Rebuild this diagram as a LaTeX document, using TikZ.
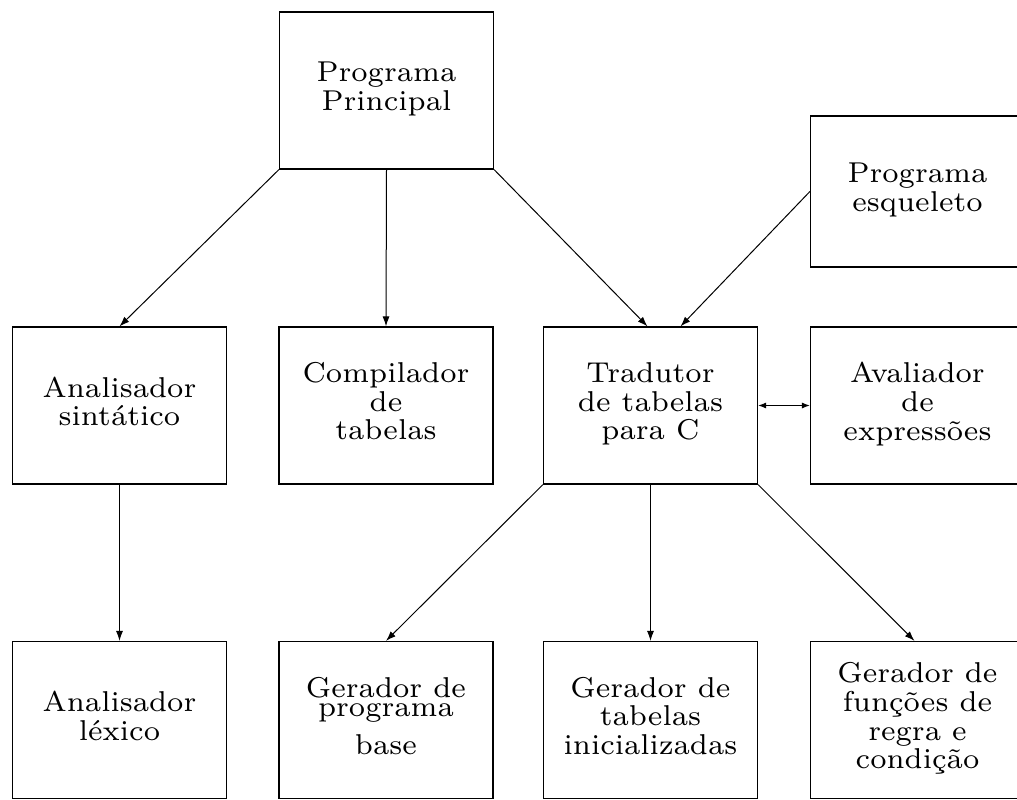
\documentclass[tikz,border=0pt]{standalone}
\usepackage{graphicx}
\usetikzlibrary{arrows.meta}
% Box labels: small optical size of Latin Modern, enlarged
\newcommand{\boxtext}[1]{\scalebox{4.1}{\fontsize{7}{7}\selectfont\begin{tabular}{@{}c@{}}#1\end{tabular}}}
\begin{document}
\begin{tikzpicture}[x=1pt,y=-1pt,
  module/.style={draw, line width=1.2pt, minimum width=214pt, minimum height=157pt, inner sep=0pt},
  flow/.style={line width=1pt, -{Latex[length=10pt,width=7pt]}},
  twoway/.style={line width=1pt, {Latex[length=8pt,width=6pt]}-{Latex[length=8pt,width=6pt]}}]
\useasboundingbox (0,0) rectangle (1017,800);
\clip (0,0) rectangle (1017,800);

% top level
\node[module] (prin) at (386.5,90.5) {\boxtext{Programa\\Principal}};
\node[module, minimum height=151pt] (esq) at (917.5,191.5) {\boxtext{Programa\\esqueleto}};

% middle row
\node[module] (sint) at (119.5,405.5) {\boxtext{Analisador\\sintático}};
\node[module] (comp) at (386,405.5) {\boxtext{Compilador\\de\\tabelas}};
\node[module] (trad) at (650.5,405.5) {\boxtext{Tradutor\\de tabelas\\para C}};
\node[module] (aval) at (917.5,405.5) {\boxtext{Avaliador\\de\\expressões}};

% bottom row
\node[module] (lex) at (119.5,720) {\boxtext{Analisador\\léxico}};
\node[module] (base) at (386,720) {\raisebox{-6pt}{\boxtext{Gerador de\\[-2.3pt]programa\\[2.3pt]base}}};
\node[module] (tab) at (650.5,720) {\boxtext{Gerador de\\tabelas\\inicializadas}};
\node[module] (func) at (917.5,720) {\boxtext{Gerador de\\funções de\\regra e\\condição}};

% connections
\draw[flow] (prin.south west) -- (sint.north);
\draw[flow] (prin.south) -- (comp.north);
\draw[flow] (prin.south east) -- ([xshift=-3pt]trad.north);
\draw[flow] (esq.west) -- ([xshift=30pt]trad.north);
\draw[twoway] (trad.east) -- (aval.west);
\draw[flow] (sint.south) -- (lex.north);
\draw[flow] (trad.south west) -- (base.north);
\draw[flow] (trad.south) -- (tab.north);
\draw[flow] (trad.south east) -- ([xshift=-3pt]func.north);
\end{tikzpicture}
\end{document}
